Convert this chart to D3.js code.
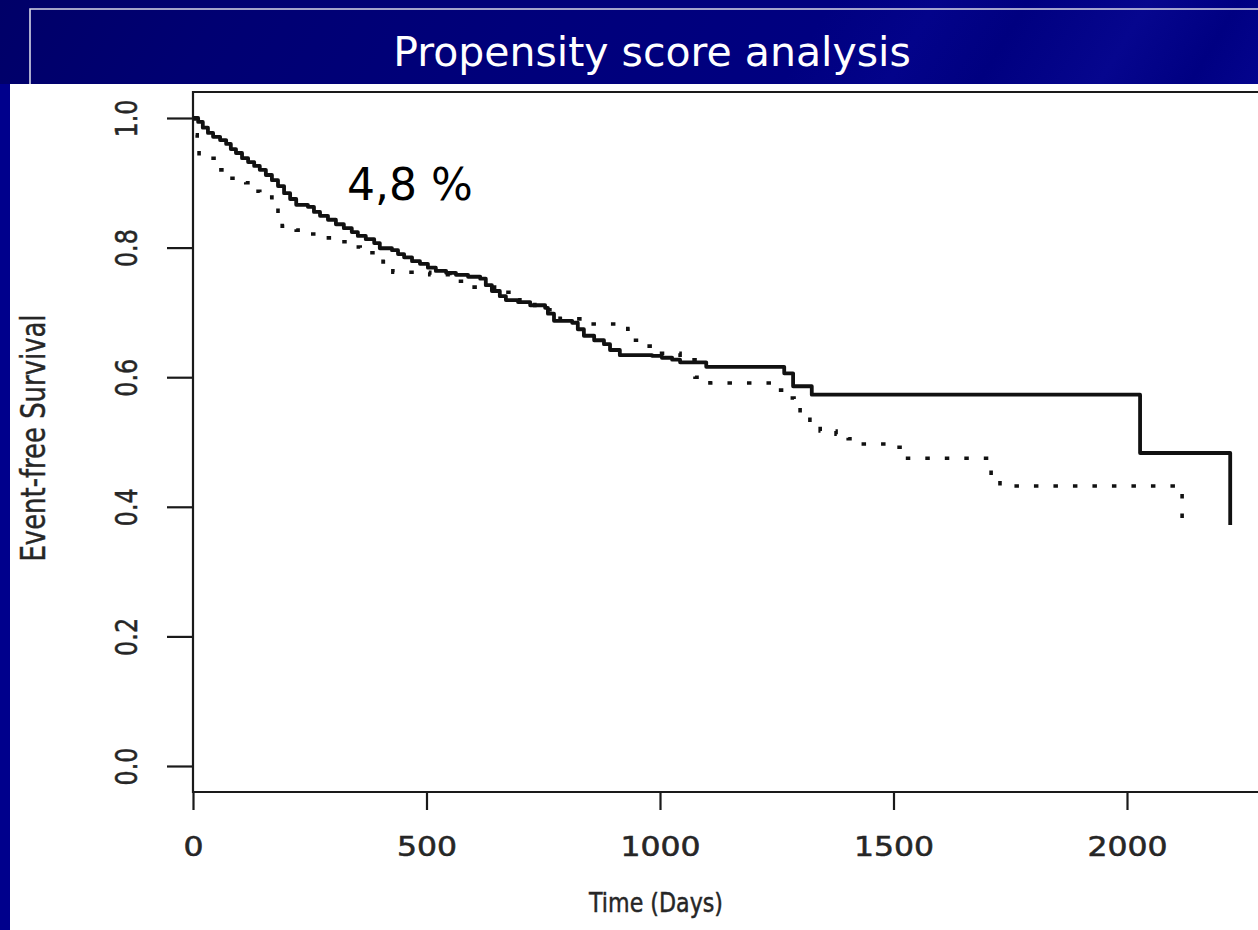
<!DOCTYPE html>
<html>
<head>
<meta charset="utf-8">
<script src="https://cdn.jsdelivr.net/npm/d3@7/dist/d3.min.js"></script>
<style>
  html, body { margin: 0; padding: 0; background: #000080; }
  svg { display: block; }
</style>
</head>
<body>
<svg id="chart" width="1258" height="930"></svg>
<script>
// Kaplan–Meier step curves: event-free survival over time (days)
const solidDays = [0, 11, 21, 32, 43, 58, 71, 81, 92, 105, 118, 131, 143, 156, 169, 182, 195, 208, 221,
  246, 259, 272, 289, 306, 323, 340, 353, 370, 388, 400, 426, 439, 452, 469, 486, 503, 520, 542, 563,
  589, 615, 627, 640, 657, 670, 696, 722, 754, 760, 773, 812, 824, 837, 859, 880, 893, 914, 983, 1004,
  1026, 1043, 1099, 1266, 1285, 1325, 2028, 2221];
const solidSurv = [1.000, 0.994, 0.985, 0.977, 0.971, 0.966, 0.960, 0.952, 0.946, 0.938, 0.932, 0.926, 0.920,
  0.912, 0.904, 0.895, 0.884, 0.875, 0.866, 0.863, 0.855, 0.849, 0.843, 0.836, 0.830, 0.824, 0.818, 0.813,
  0.807, 0.799, 0.796, 0.790, 0.785, 0.779, 0.775, 0.769, 0.764, 0.761, 0.758, 0.755, 0.752, 0.742, 0.733,
  0.725, 0.719, 0.716, 0.711, 0.707, 0.698, 0.687, 0.684, 0.674, 0.664, 0.657, 0.651, 0.642, 0.634, 0.633,
  0.630, 0.627, 0.623, 0.616, 0.606, 0.586, 0.573, 0.483, 0.372];

const dottedDays = [0, 4, 9, 13, 49, 75, 113, 124, 143, 169, 182, 191, 221, 251, 281, 308, 334, 358, 407,
  428, 507, 550, 582, 653, 700, 732, 786, 850, 931, 936, 959, 983, 1043, 1075, 1107, 1246, 1268, 1287,
  1300, 1321, 1343, 1377, 1403, 1428, 1503, 1514, 1707, 1709, 1728, 2118];
const dottedSurv = [1.000, 0.974, 0.958, 0.938, 0.920, 0.907, 0.900, 0.887, 0.878, 0.869, 0.852, 0.833, 0.827,
  0.821, 0.815, 0.809, 0.801, 0.792, 0.778, 0.762, 0.758, 0.748, 0.739, 0.731, 0.716, 0.704, 0.690, 0.682,
  0.674, 0.657, 0.648, 0.637, 0.627, 0.600, 0.591, 0.580, 0.568, 0.556, 0.540, 0.529, 0.517, 0.512, 0.505,
  0.497, 0.492, 0.475, 0.463, 0.443, 0.432, 0.370];

const xTicks = [0, 500, 1000, 1500, 2000];
const yTicks = [0.0, 0.2, 0.4, 0.6, 0.8, 1.0];

const titleText = "Propensity score analysis";
const xLabel = "Time (Days)";
const yLabel = "Event-free Survival";
const noteText = "4,8 %";

const W = 1258, H = 930;
const svg = d3.select("#chart");

// slide background with diagonal streaks
const defs = svg.append("defs");
const bg = defs.append("linearGradient").attr("id", "bg")
  .attr("x1", 0).attr("y1", 0).attr("x2", 1).attr("y2", 0.45);
[[0, "#000068"], [0.15, "#000072"], [0.35, "#00007a"], [0.55, "#000080"], [0.62, "#03038a"],
 [0.68, "#000080"], [0.76, "#06068e"], [0.82, "#000082"], [0.9, "#070796"], [1, "#00008a"]]
  .forEach(([o, c]) => bg.append("stop").attr("offset", o).attr("stop-color", c));
svg.append("rect").attr("width", W).attr("height", H).attr("fill", "url(#bg)");
// left margin strip beside the panel
svg.append("rect").attr("x", 0).attr("y", 84).attr("width", 10).attr("height", H - 84).attr("fill", "#00008c");

// thin white frame around the title area
svg.append("path")
  .attr("d", `M30,84 L30,9 L${W},9`)
  .attr("fill", "none").attr("stroke", "#d8d8e8").attr("stroke-width", 1.6);

svg.append("text")
  .attr("x", 652).attr("y", 66)
  .attr("text-anchor", "middle")
  .attr("font-family", "DejaVu Sans, sans-serif")
  .attr("font-size", 41)
  .attr("fill", "#ffffff")
  .text(titleText);

// white plot panel
svg.append("rect").attr("x", 10).attr("y", 84).attr("width", W - 10).attr("height", H - 84)
  .attr("fill", "#ffffff");

const x = d3.scaleLinear().domain([0, 2000]).range([193, 1127]);
const y = d3.scaleLinear().domain([0, 1]).range([766, 118]);

const boxTop = 92, boxBottom = 792, boxLeft = x(0);
const ink = "#1a1a1a";
const textInk = "#262626";

// plot box (right side runs past the panel edge)
svg.append("path")
  .attr("d", `M${W + 5},${boxTop} L${boxLeft},${boxTop} L${boxLeft},${boxBottom} L${W + 5},${boxBottom}`)
  .attr("fill", "none").attr("stroke", ink).attr("stroke-width", 2.2);

// x axis
const gx = svg.append("g").attr("transform", `translate(0,${boxBottom})`)
  .call(d3.axisBottom(x).tickValues(xTicks).tickSize(18).tickPadding(0).tickFormat(d3.format("d")));
gx.select(".domain").remove();
gx.selectAll(".tick line").attr("stroke", ink).attr("stroke-width", 2.2);
gx.selectAll(".tick text")
  .attr("y", 64).attr("dy", null)
  .attr("font-family", "DejaVu Sans, sans-serif")
  .attr("font-size", 26)
  .attr("fill", textInk)
  .attr("stroke", textInk).attr("stroke-width", 0.55)
  .attr("lengthAdjust", "spacingAndGlyphs")
  .attr("textLength", d => String(d).length * 20);

// y axis
const gy = svg.append("g").attr("transform", `translate(${boxLeft},0)`)
  .call(d3.axisLeft(y).tickValues(yTicks).tickSize(26).tickPadding(0).tickFormat(d3.format(".1f")));
gy.select(".domain").remove();
gy.selectAll(".tick line").attr("stroke", ink).attr("stroke-width", 2.2);
gy.selectAll(".tick text")
  .attr("x", null).attr("dy", null)
  .attr("text-anchor", "middle")
  .attr("transform", "translate(-56,0) rotate(-90)")
  .attr("font-family", "Liberation Sans Narrow, DejaVu Sans Condensed, sans-serif")
  .attr("font-size", 31)
  .attr("fill", textInk)
  .attr("stroke", textInk).attr("stroke-width", 0.5)
  .attr("lengthAdjust", "spacingAndGlyphs")
  .attr("textLength", 38);

// axis titles
svg.append("text")
  .attr("x", 656).attr("y", 912)
  .attr("text-anchor", "middle")
  .attr("font-family", "DejaVu Sans, sans-serif")
  .attr("font-size", 27)
  .attr("fill", textInk)
  .attr("stroke", textInk).attr("stroke-width", 0.5)
  .attr("lengthAdjust", "spacingAndGlyphs")
  .attr("textLength", 134)
  .text(xLabel);

svg.append("text")
  .attr("transform", "translate(45,438) rotate(-90)")
  .attr("text-anchor", "middle")
  .attr("font-family", "Liberation Sans Narrow, DejaVu Sans Condensed, sans-serif")
  .attr("font-size", 33)
  .attr("fill", textInk)
  .attr("stroke", textInk).attr("stroke-width", 0.4)
  .attr("lengthAdjust", "spacingAndGlyphs")
  .attr("textLength", 247)
  .text(yLabel);

// survival curves
const line = d3.line().x(d => x(d[0])).y(d => y(d[1])).curve(d3.curveStepAfter);
const solid = solidDays.map((d, i) => [d, solidSurv[i]]);
const dotted = dottedDays.map((d, i) => [d, dottedSurv[i]]);

svg.append("path").datum(dotted)
  .attr("d", line)
  .attr("fill", "none").attr("stroke", "#111").attr("stroke-width", 3.6)
  .attr("stroke-dasharray", "4.5 15");

svg.append("path").datum(solid)
  .attr("d", line)
  .attr("fill", "none").attr("stroke", "#111").attr("stroke-width", 3.8)
  .attr("stroke-linejoin", "round");

svg.append("text")
  .attr("x", 347).attr("y", 200)
  .attr("font-family", "DejaVu Sans, sans-serif")
  .attr("font-size", 44)
  .attr("fill", "#000")
  .text(noteText);
</script>
</body>
</html>
